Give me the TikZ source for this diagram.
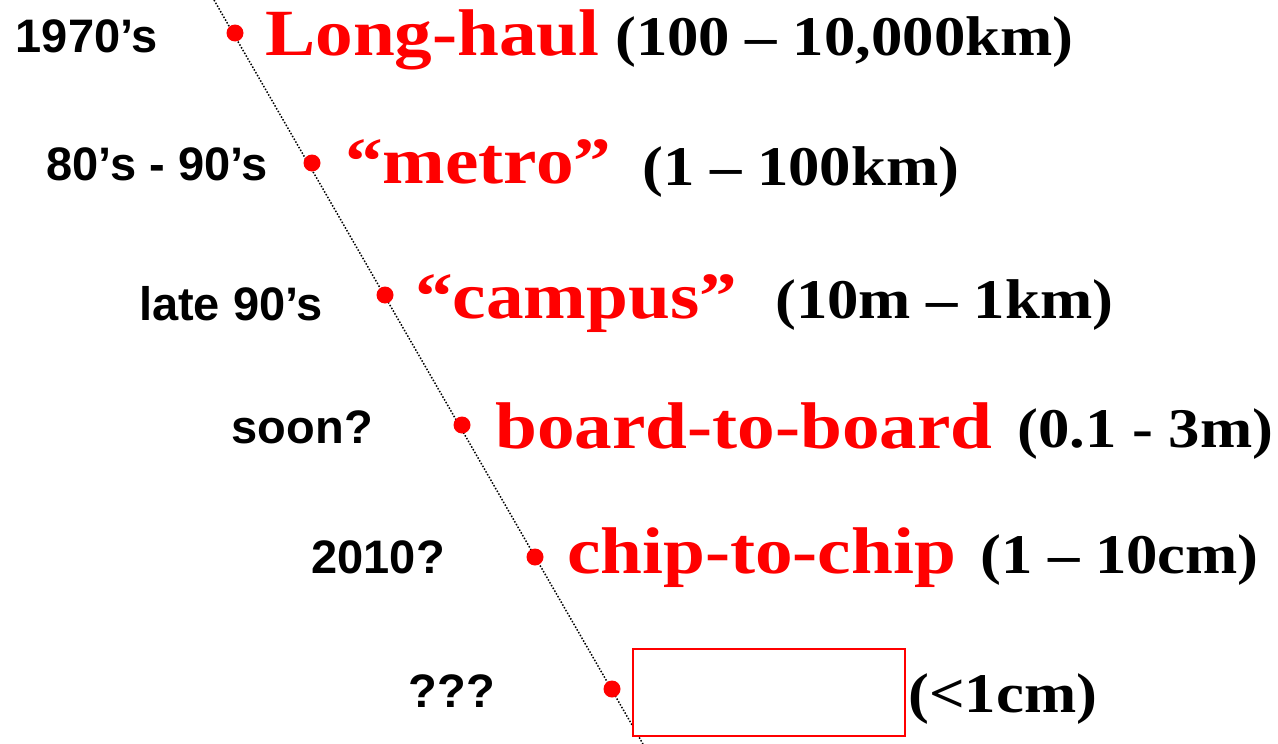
\documentclass[tikz,border=0pt]{standalone}
\usepackage{fontspec}
\setmainfont{Liberation Serif}
\newfontfamily\yearfont{Liberation Sans}
\newfontfamily\distfont[FakeStretch=1.14]{Liberation Serif}
\newfontfamily\rangefont[FakeStretch=1.12]{Liberation Serif}
\usetikzlibrary{positioning}
\tikzstyle{yr}=[inner sep=0pt, anchor=base east, font=\yearfont\bfseries\fontsize{47}{47}\selectfont]
\tikzstyle{blt}=[inner sep=0pt, shape=circle, fill=red, minimum size=17pt]
\tikzstyle{scl}=[inner sep=0pt, anchor=base west, text=red, font=\distfont\bfseries\fontsize{66}{66}\selectfont]
\tikzstyle{rng}=[inner sep=0pt, anchor=base west, font=\rangefont\bfseries\fontsize{56}{56}\selectfont]
\tikzstyle{trend}=[line width=1.5pt, dash pattern=on 1.5pt off 1.7pt]

\begin{document}
\begin{tikzpicture}[x=1pt, y=-1pt]
\useasboundingbox (0,0) rectangle (1278,744);
\coordinate (top) at (214,0);
\coordinate (bot) at (643,744);
\draw[trend] (top) -- (bot);

% the empty box at the end
\node[draw=red, line width=2pt, fill=white, minimum width=272pt, minimum height=87pt, inner sep=0pt] (chipbox) at (769,692) {};

\foreach \n/\x/\y in {1/235/33, 2/312/163, 3/385/295, 4/462/425, 5/535/557, 6/612/689}
{
\node[blt] (b\n) at (\x,\y) {};
}

\node[yr] (y1) at (158,52) {1970’s};
\node[yr] (y2) at (268,180) {80’s - 90’s};
\node[yr] (y3) at (323,320) {late 90’s};
\node[yr] (y4) at (373,443) {soon?};
\node[yr] (y5) at (445,573) {2010?};
\node[yr] (y6) at (495,707) {???};

\node[scl] (s1) at (265,55) {Long-haul};
\node[scl] (s2) at (345,183) {“metro”};
\node[scl] (s3) at (415,318) {“campus”};
\node[scl] (s4) at (495,448) {board-to-board};
\node[scl] (s5) at (567,573) {chip-to-chip};

\node[rng] (r1) at (615,55) {(100 – 10,000km)};
\node[rng] (r2) at (642,185) {(1 – 100km)};
\node[rng] (r3) at (775,318) {(10m – 1km)};
\node[rng] (r4) at (1017,447) {(0.1 - 3m)};
\node[rng] (r5) at (980,573) {(1 – 10cm)};
\node[rng] (r6) at (908,712) {(<1cm)};
\end{tikzpicture}
\end{document}
